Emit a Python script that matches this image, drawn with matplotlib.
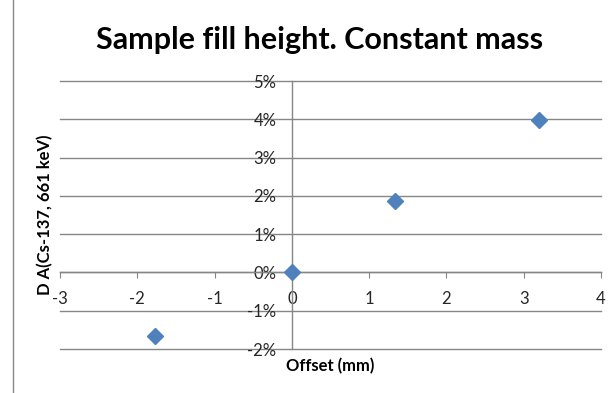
#!/usr/bin/env python3

import matplotlib
matplotlib.use("Agg")
import matplotlib.pyplot as plt
from matplotlib.lines import Line2D
from matplotlib.ticker import FuncFormatter

offset_mm = [-1.77, 0.0, 1.33, 3.20]
delta_a_pct = [-1.66, 0.02, 1.86, 3.98]
x_ticks = [-3, -2, -1, 0, 1, 2, 3, 4]
y_ticks = [-2, -1, 0, 1, 2, 3, 4, 5]


def main():
    plt.rcParams["font.family"] = ["Lato", "DejaVu Sans"]
    plt.rcParams["axes.unicode_minus"] = False
    fig = plt.figure(figsize=(6.09, 3.93), dpi=100)
    ax = fig.add_axes([60 / 609, 44 / 393, 541 / 609, 268 / 393])

    grey = "#868686"
    ax.plot(offset_mm, delta_a_pct, linestyle="None", marker="D",
            markersize=8, color="#4F81BD", zorder=5, clip_on=False)

    ax.set_xlim(-3, 4)
    ax.set_ylim(-2, 5)
    ax.set_xticks(x_ticks)
    ax.set_yticks(y_ticks)
    ax.yaxis.set_major_formatter(FuncFormatter(lambda v, p: f"{v:.0f}%"))

    # axes cross at zero like the excel chart
    ax.spines["left"].set_position(("data", 0))
    ax.spines["bottom"].set_position(("data", 0))
    ax.spines["top"].set_visible(False)
    ax.spines["right"].set_visible(False)
    for s in ("left", "bottom"):
        ax.spines[s].set_color(grey)
        ax.spines[s].set_linewidth(1)

    ax.yaxis.grid(True, color=grey, linewidth=1)
    for gl in ax.get_ygridlines():
        gl.set_clip_on(False)
    ax.set_axisbelow(True)
    ax.tick_params(axis="x", direction="out", length=4.3, color=grey,
                   labelsize=12, labelcolor="#262626", pad=9)
    ax.tick_params(axis="y", length=0, labelsize=12,
                   labelcolor="#262626", pad=11)

    ax.set_xlabel("Offset (mm)", fontsize=12, fontweight="bold")
    ax.xaxis.set_label_coords(0.5, -0.035)
    ax.xaxis.label.set_va("top")
    ax.set_ylabel("D A(Cs-137, 661 keV)", fontsize=12, fontweight="bold")
    ax.yaxis.set_label_coords(-0.012, 0.5)

    fig.text(0.525, 0.897, "Sample fill height. Constant mass",
             ha="center", va="center", fontsize=22, fontweight="bold")

    # chart border on the left edge
    fig.add_artist(Line2D([12.5 / 609, 12.5 / 609], [0, 1],
                          transform=fig.transFigure, color=grey, linewidth=1))

    fig.savefig("out.png", dpi=100)


if __name__ == "__main__":
    main()
